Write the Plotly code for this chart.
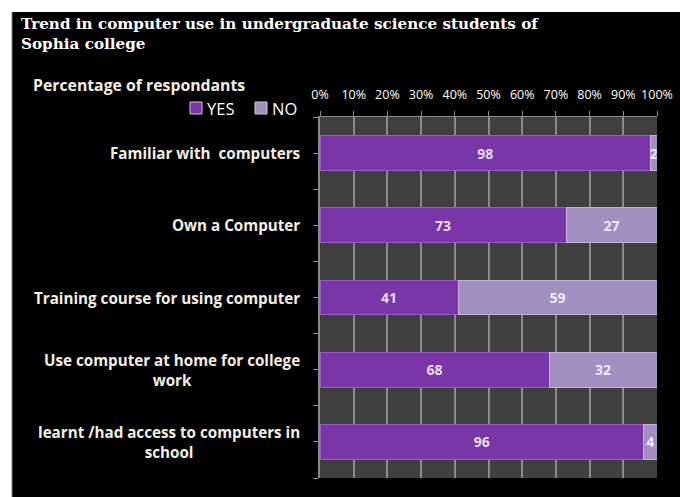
import plotly.graph_objects as go

categories = [
    "Familiar with  computers",
    "Own a Computer",
    "Training course for using computer",
    "Use computer at home for college<br>work",
    "learnt /had access to computers in<br>school",
]
series_names = ["YES", "NO"]
yes_values = [98, 73, 41, 68, 96]
no_values = [2, 27, 59, 32, 4]
x_ticks = list(range(0, 101, 10))
title_text = "Trend in computer use in undergraduate science students of<br>Sophia college"

W, H = 680, 497
L, R, T, B = 320, 23, 117, 19
pw, ph = W - L - R, H - T - B

def px_x(px):
    return (px - L) / pw

def px_y(py):
    return (H - B - py) / ph

ypos = list(range(len(categories)))
colors = ["#7a35a8", "#a28fbf"]
edge = ["#9a5cc8", "#c2b4d8"]

fig = go.Figure()
for name, vals, col, ec, tc in zip(series_names, [yes_values, no_values], colors, edge,
                                   ["#e6ddf2", "#eee8f6"]):
    fig.add_trace(go.Bar(
        name=name, y=ypos, x=vals, orientation="h",
        marker=dict(color=col, line=dict(color=ec, width=1)),
        text=[str(v) for v in vals], textposition="inside",
        insidetextanchor="middle", constraintext="none",
        textfont=dict(color=tc, size=14, family="Open Sans", weight="bold"),
    ))

annotations = []
for i, c in enumerate(categories):
    annotations.append(dict(
        text="<b>" + c + "</b>", xref="paper", yref="y", x=px_x(302), y=i,
        xanchor="right", yanchor="middle", align="center", showarrow=False,
        font=dict(color="#f3efe2", size=15.2, family="Open Sans"),
    ))
annotations.append(dict(
    text="<b>Percentage of respondants</b>", xref="paper", yref="paper",
    x=px_x(31), y=px_y(85), xanchor="left", yanchor="middle", showarrow=False,
    font=dict(color="#f3efe2", size=15.8, family="Open Sans"),
))
annotations.append(dict(
    text="<b>" + title_text + "</b>", xref="paper", yref="paper", x=px_x(19), y=px_y(13),
    xanchor="left", yanchor="top", align="left", showarrow=False,
    font=dict(family="DejaVu Serif", size=15.2, color="white"),
))

shapes = [
    dict(type="rect", xref="paper", yref="paper", x0=px_x(-5), x1=px_x(12),
         y0=px_y(H + 5), y1=px_y(-5), fillcolor="white", line=dict(width=0), layer="below"),
    dict(type="rect", xref="paper", yref="paper", x0=px_x(-5), x1=px_x(W + 5),
         y0=px_y(12), y1=px_y(-5), fillcolor="white", line=dict(width=0), layer="below"),
    dict(type="line", xref="paper", yref="paper", x0=px_x(12), x1=px_x(12),
         y0=px_y(12), y1=px_y(H + 5), line=dict(color="#888888", width=1)),
]

# manual legend (compact, like the reference)
legend_x = [190, 255]
for name, col, lx in zip(series_names, colors, legend_x):
    shapes.append(dict(type="rect", xref="paper", yref="paper",
                       x0=px_x(lx), x1=px_x(lx + 12), y0=px_y(114), y1=px_y(102),
                       fillcolor=col, line=dict(color="#d0c4e4", width=1)))
    annotations.append(dict(
        text=name, xref="paper", yref="paper", x=px_x(lx + 15), y=px_y(108),
        xanchor="left", yanchor="middle", showarrow=False,
        font=dict(color="white", size=16.5, family="Open Sans"),
    ))

fig.update_layout(
    width=W, height=H,
    margin=dict(l=L, r=R, t=T, b=B, autoexpand=False),
    paper_bgcolor="black", plot_bgcolor="#3f3f3f",
    barmode="stack", bargap=0.52,
    showlegend=False,
    xaxis=dict(
        side="top", range=[0, 100], tickvals=x_ticks,
        ticktext=[f"{v}%" for v in x_ticks],
        showgrid=True, gridcolor="#8a8a8a", gridwidth=2,
        ticks="outside", ticklen=5, tickcolor="#8a8a8a",
        tickfont=dict(color="white", size=12.5, family="Open Sans"),
        ticklabelstandoff=7, automargin=False,
        showline=True, linecolor="#8a8a8a", linewidth=1, zeroline=False,
    ),
    yaxis=dict(
        range=[len(categories) - 0.5, -0.5], tickvals=ypos, showticklabels=False,
        showgrid=False, zeroline=False, showline=True, linecolor="#8a8a8a", linewidth=2,
        ticks="outside", ticklen=5, tickcolor="#8a8a8a", automargin=False,
        minor=dict(tickvals=[i + 0.5 for i in range(-1, len(categories))], ticks="outside",
                   ticklen=5, tickcolor="#8a8a8a", showgrid=False),
    ),
    annotations=annotations,
    shapes=shapes,
)

fig.write_html("out.html")
